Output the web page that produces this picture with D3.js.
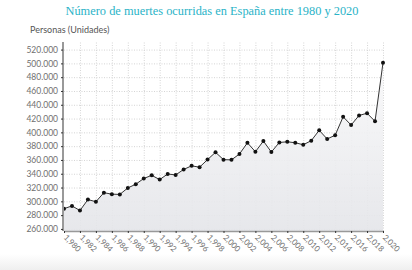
<!DOCTYPE html>
<html>
<head>
<meta charset="utf-8">
<script src="https://cdn.jsdelivr.net/npm/d3@7"></script>
<style>
    html, body { margin: 0; padding: 0; background: #fff; }
    svg { display: block; }
    .grid line { stroke: #d4d4d4; stroke-dasharray: 1,1.5; }
    .grid .domain { display: none; }
    .axis text { fill: #707070; font-family: Lato, sans-serif; font-size: 8.5px; }
</style>
</head>
<body>
<div id="chart"></div>
<script>
// values
const years = d3.range(1980, 2021);
const deaths = [
    289344, 293386, 286655, 302569, 299409, 312532, 310413, 310073, 319437, 324796,
    333142, 337691, 331515, 339661, 338242, 346227, 351449, 349521, 360511, 371102,
    360391, 360131, 368618, 384828, 371934, 387355, 371478, 385361, 386324, 384933,
    382047, 387911, 402950, 390419, 395830, 422568, 410611, 424523, 427721, 416000,
    501000
];
const yTicks = d3.range(260000, 520001, 20000);
const xTicks = d3.range(1980, 2021, 2);
const title = 'Número de muertes ocurridas en España entre 1980 y 2020';
const yLabel = 'Personas (Unidades)';

const width = 412;
const height = 270;

const svg = d3.select('#chart')
    .append('svg')
    .attr('width', width)
    .attr('height', height);

const defs = svg.append('defs');
const areaGrad = defs.append('linearGradient')
    .attr('id', 'areaGrad')
    .attr('x1', 0).attr('y1', 0).attr('x2', 0).attr('y2', 1);
areaGrad.append('stop').attr('offset', '0%').attr('stop-color', '#f9f9fa');
areaGrad.append('stop').attr('offset', '100%').attr('stop-color', '#e4e5e9');

const footGrad = defs.append('linearGradient')
    .attr('id', 'footGrad')
    .attr('x1', 0).attr('y1', 0).attr('x2', 0).attr('y2', 1);
footGrad.append('stop').attr('offset', '0%').attr('stop-color', '#ffffff');
footGrad.append('stop').attr('offset', '100%').attr('stop-color', '#efefef');

// soft shade at the bottom of the card
svg.append('rect')
    .attr('x', 0).attr('y', 254)
    .attr('width', width).attr('height', 16)
    .attr('fill', 'url(#footGrad)');

const x = d3.scaleLinear()
    .domain([1980, 2020])
    .range([64, 383]);

const y = d3.scaleLinear()
    .domain([257000, 531000])
    .range([231, 42]);

// title
svg.append('text')
    .attr('x', 212)
    .attr('y', 15)
    .attr('text-anchor', 'middle')
    .attr('textLength', 293)
    .attr('lengthAdjust', 'spacingAndGlyphs')
    .style('font-family', '"Liberation Serif", serif')
    .style('font-size', '13px')
    .style('fill', '#2ab3c7')
    .text(title);

svg.append('text')
    .attr('x', 30)
    .attr('y', 33)
    .style('font-family', 'Lato, sans-serif')
    .style('font-size', '9px')
    .style('fill', '#555')
    .text(yLabel);

// gridlines
svg.append('g')
    .attr('class', 'grid')
    .attr('transform', 'translate(64,0)')
    .call(d3.axisLeft(y).tickValues(yTicks).tickSize(-(383 - 64)).tickFormat(''));

svg.append('g')
    .attr('class', 'grid')
    .attr('transform', 'translate(0,231)')
    .call(d3.axisBottom(x).tickValues(xTicks.slice(1)).tickSize(-(231 - 42)).tickFormat(''));

// area + line
const area = d3.area()
    .x((d, i) => x(years[i]))
    .y0(y(257000))
    .y1((d) => y(d));

svg.append('path')
    .datum(deaths)
    .attr('d', area)
    .attr('fill', 'url(#areaGrad)')
    .attr('fill-opacity', 0.9);

const line = d3.line()
    .x((d, i) => x(years[i]))
    .y((d) => y(d));

svg.append('path')
    .datum(deaths)
    .attr('d', line)
    .attr('fill', 'none')
    .attr('stroke', '#333')
    .attr('stroke-width', 1);

svg.append('g')
    .selectAll('circle')
    .data(deaths)
    .enter()
    .append('circle')
    .attr('cx', (d, i) => x(years[i]))
    .attr('cy', (d) => y(d))
    .attr('r', 2)
    .attr('fill', '#111');

// y axis
const yAxis = svg.append('g')
    .attr('class', 'axis')
    .attr('transform', 'translate(63,0)')
    .call(d3.axisLeft(y)
        .tickValues(yTicks)
        .tickSize(2)
        .tickPadding(3)
        .tickFormat((d) => d3.format(',')(d).replace(/,/g, '.')));
yAxis.select('.domain').attr('stroke', '#999').attr('stroke-width', 2).attr('d', 'M0,42V231');
yAxis.selectAll('.tick line').attr('stroke', '#333');

// x axis
const xAxis = svg.append('g')
    .attr('class', 'axis')
    .attr('transform', 'translate(0,231)')
    .call(d3.axisBottom(x)
        .tickValues(xTicks)
        .tickSize(2)
        .tickSizeOuter(0));
xAxis.select('.domain').attr('stroke', '#999').attr('stroke-width', 1.5);
xAxis.selectAll('.tick line').attr('stroke', '#333');
xAxis.selectAll('.tick text')
    .attr('text-anchor', 'start')
    .attr('transform', 'rotate(45)')
    .attr('x', 4)
    .attr('y', 3)
    .attr('dy', '0.35em')
    .style('font-size', '8px');
</script>
</body>
</html>
